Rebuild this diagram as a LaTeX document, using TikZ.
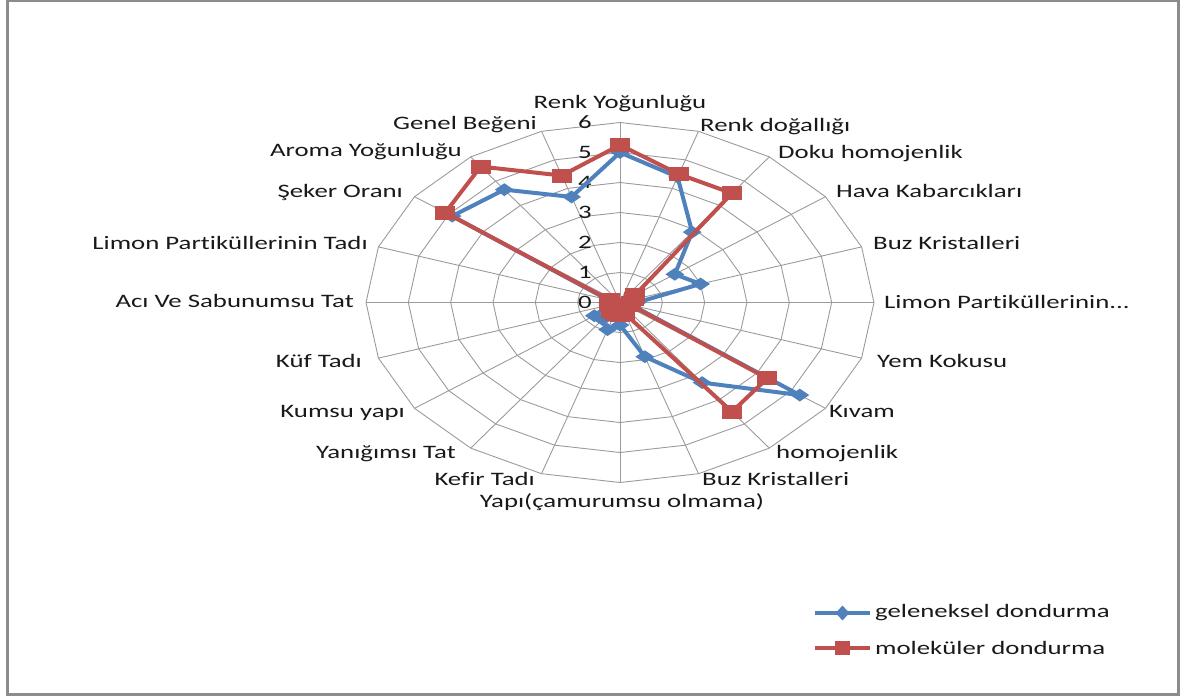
\documentclass[tikz,border=0pt]{standalone}
\usepackage{fontspec}
\setmainfont{Carlito}[FakeStretch=1.41, Ligatures=NoCommon]
\usetikzlibrary{shapes.geometric}
\definecolor{serblue}{RGB}{79,129,189}
\definecolor{serred}{RGB}{192,80,77}
\definecolor{gridgray}{RGB}{155,155,155}
\definecolor{framegray}{RGB}{140,140,140}
\definecolor{txt}{RGB}{25,25,25}
\begin{document}
\begin{tikzpicture}[x=1pt,y=-1pt,
  gridline/.style={draw=gridgray, line width=0.9pt},
  axlabel/.style={font=\fontsize{19}{21}\selectfont, inner sep=0pt, text=txt},
  rlab/.style={axlabel, anchor=base west},
  llab/.style={axlabel, anchor=base east},
  clab/.style={axlabel, anchor=base},
  numlab/.style={axlabel, anchor=east},
  serline/.style={line width=4pt, line join=round},
  dmark/.style={diamond, fill=serblue, minimum width=19pt, minimum height=13pt, inner sep=0pt},
  smark/.style={rectangle, fill=serred, minimum width=20pt, minimum height=14pt, inner sep=0pt}]
\useasboundingbox (0,0) rectangle (1181,697);
\draw[framegray, line width=2.5pt] (7.5,1) rectangle (1178.5,694.5);
% grid
\coordinate (c) at (620,302.5);
\foreach \i in {0,...,19}
  \draw[gridline] (c) -- ({620+254*sin(18*\i)},{302.5-180*cos(18*\i)});
\foreach \k in {1,...,6}
  \draw[gridline] (620,{302.5-30*\k}) \foreach \i in {1,...,19}{ -- ({620+42.333*\k*sin(18*\i)},{302.5-30*\k*cos(18*\i)}) } -- cycle;
% scale numbers
\foreach \k in {0,...,6}
  \node[numlab] (n\k) at (592,{302.5-30*\k}) {\k};
% data points
\foreach \v [count=\i from 0] in {5.0,4.4,2.9,1.6,2.0,0.4,0.3,5.25,3.3,1.9,0.75,0.95,0.7,0.75,0.3,0.3,0.3,4.9,4.65,3.7}
  \coordinate (b\i) at ({620+42.333*\v*sin(18*\i)},{302.5-30*\v*cos(18*\i)});
\foreach \v [count=\i from 0] in {5.25,4.5,4.5,0.45,0.35,0.25,0.25,4.3,4.5,0.4,0.4,0.4,0.35,0.25,0.25,0.25,0.25,5.1,5.6,4.45}
  \coordinate (r\i) at ({620+42.333*\v*sin(18*\i)},{302.5-30*\v*cos(18*\i)});
% series 1
\draw[serline, serblue] (b0) \foreach \i in {1,...,19}{ -- (b\i)} -- cycle;
\foreach \i in {0,...,19} \node[dmark] at (b\i) {};
% series 2
\draw[serline, serred] (r0) \foreach \i in {1,...,19}{ -- (r\i)} -- cycle;
\foreach \i in {0,...,19} \node[smark] at (r\i) {};
% axis labels
\node[clab] (l0) at (620,108) {Renk Yoğunluğu};
\node[rlab] (l1) at (700,131) {Renk doğallığı};
\node[rlab] (l2) at (778,158) {Doku homojenlik};
\node[rlab] (l3) at (836,197) {Hava Kabarcıkları};
\node[rlab] (l4) at (873,249) {Buz Kristalleri};
\node[rlab] (l5) at (884,308) {Limon Partiküllerinin...};
\node[rlab] (l6) at (877,367) {Yem Kokusu};
\node[rlab] (l7) at (829,417) {Kıvam};
\node[rlab] (l8) at (776,458) {homojenlik};
\node[rlab] (l9) at (702,485) {Buz Kristalleri};
\node[clab] (l10) at (622,507) {Yapı(çamurumsu olmama)};
\node[llab] (l11) at (535,485) {Kefir Tadı};
\node[llab] (l12) at (456,458) {Yanığımsı Tat};
\node[llab] (l13) at (405,417) {Kumsu yapı};
\node[llab] (l14) at (362,367) {Küf Tadı};
\node[llab] (l15) at (354,307) {Acı Ve Sabunumsu Tat};
\node[llab] (l16) at (368,249) {Limon Partiküllerinin Tadı};
\node[llab] (l17) at (403,197) {Şeker Oranı};
\node[llab] (l18) at (462,156) {Aroma Yoğunluğu};
\node[llab] (l19) at (537,129) {Genel Beğeni};
% legend
\coordinate (lg1a) at (815,613); \coordinate (lg1b) at (870,613);
\coordinate (lg2a) at (815,648); \coordinate (lg2b) at (870,648);
\draw[serline, serblue] (lg1a) -- (lg1b);
\node[dmark, minimum width=14pt, minimum height=15pt] (lgm1) at (842.5,613) {};
\draw[serline, serred] (lg2a) -- (lg2b);
\node[smark, minimum width=15pt, minimum height=14pt] (lgm2) at (842.5,648) {};
\node[axlabel, anchor=west] (lgt1) at (875,613) {geleneksel dondurma};
\node[axlabel, anchor=west] (lgt2) at (875,648) {moleküler dondurma};
\end{tikzpicture}
\end{document}
